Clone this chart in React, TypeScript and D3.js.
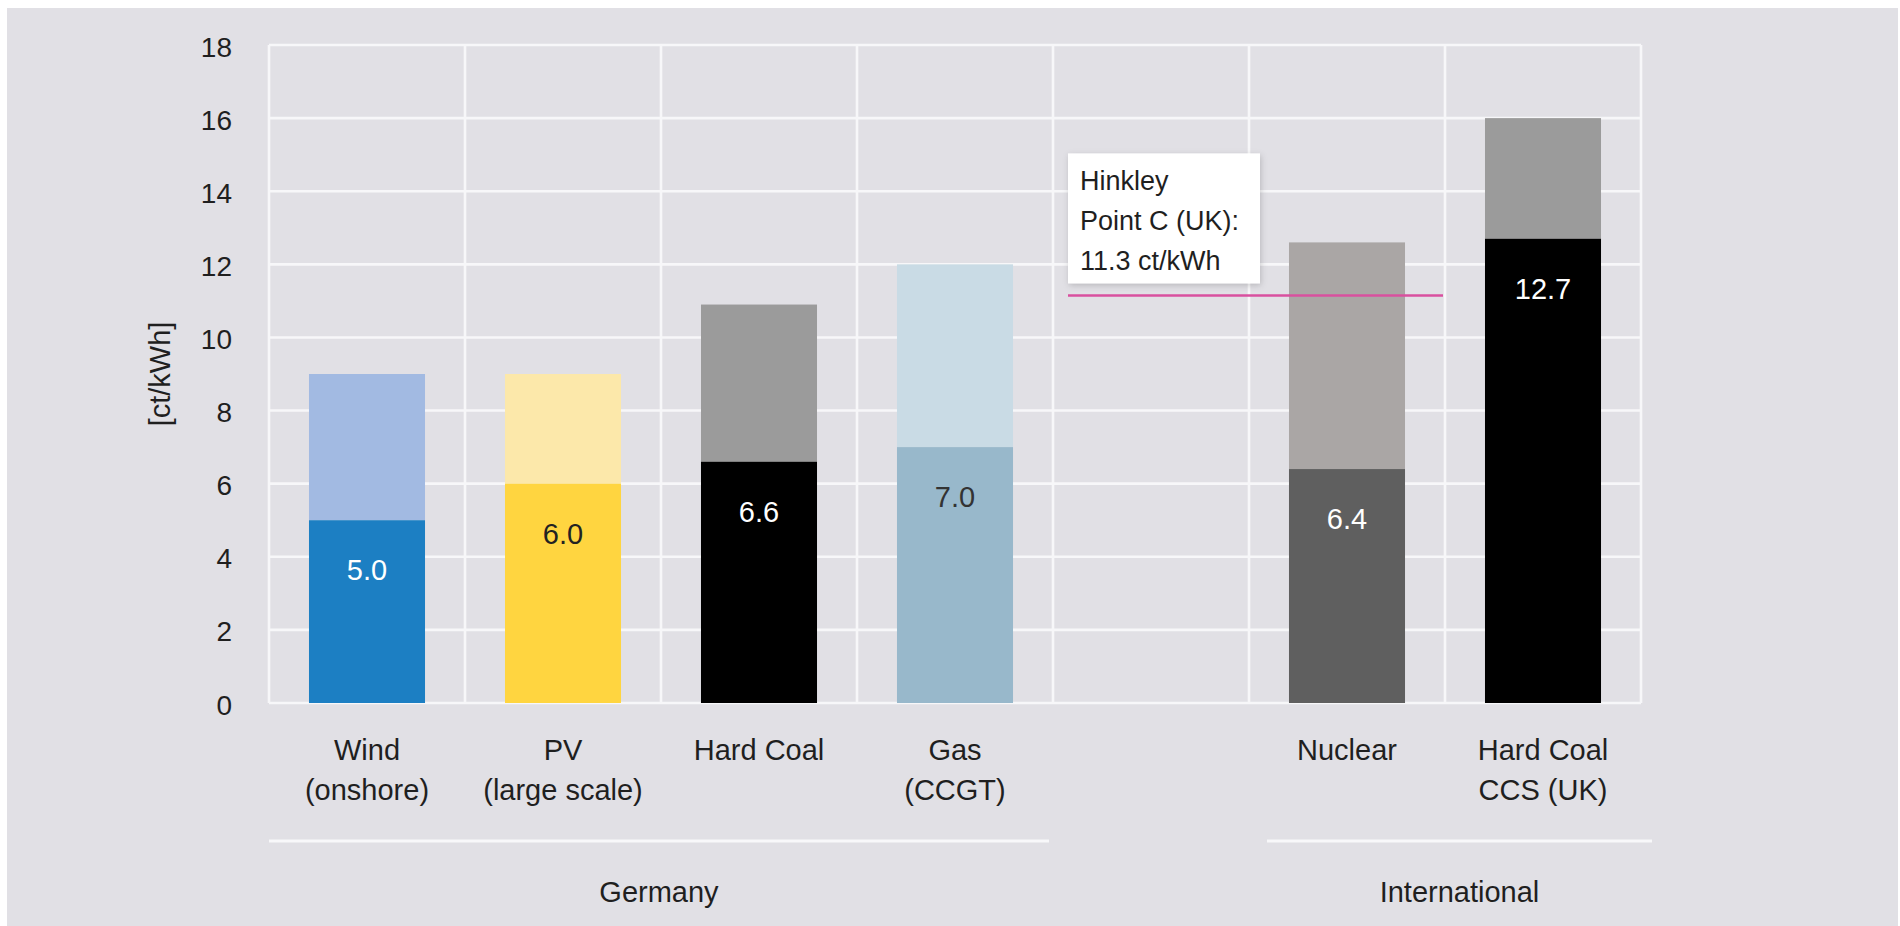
import React from "react";
import * as d3 from "d3";

// ---- data ----
const categories = ["wind", "pv", "coal", "gas", "gap", "nuclear", "ccs"];
const labelLine1 = ["Wind", "PV", "Hard Coal", "Gas", "", "Nuclear", "Hard Coal"];
const labelLine2 = ["(onshore)", "(large scale)", "", "(CCGT)", "", "", "CCS (UK)"];
const lowValues: (number | null)[] = [5.0, 6.0, 6.6, 7.0, null, 6.4, 12.7];
const highValues: (number | null)[] = [9.0, 9.0, 10.9, 12.0, null, 12.6, 16.0];
const lowColors = ["#1c7fc3", "#ffd540", "#000000", "#98b8cb", "", "#5f5f5f", "#000000"];
const highColors = ["#a2bae2", "#fce8aa", "#9b9b9b", "#c9dbe5", "", "#aaa6a5", "#9b9b9b"];
const valueLabelColors = ["#ffffff", "#222222", "#ffffff", "#333333", "", "#ffffff", "#ffffff"];
const yTicks = [0, 2, 4, 6, 8, 10, 12, 14, 16, 18];
const groups = [
  { name: "Germany", from: "wind", to: "gas" },
  { name: "International", from: "nuclear", to: "ccs" },
];
const hinkleyLines = ["Hinkley", "Point C (UK):", "11.3 ct/kWh"];
const hinkleyLineValue = 11.15;
const yAxisTitle = "[ct/kWh]";

const FONT = "'Liberation Sans', Arial, sans-serif";
const TEXT = "#1f1f1f";

export default function App() {
  const W = 1900;
  const H = 926;
  const left = 269;
  const right = 1641;
  const top = 45;
  const bottom = 703;

  const pad = 0.408;
  const x = d3.scaleBand<string>().domain(categories).range([left, right]).paddingInner(pad).paddingOuter(pad / 2);
  const y = d3.scaleLinear().domain([0, 18]).range([bottom, top]);
  const step = x.step();
  const colStart = (c: string) => (x(c) as number) - (step * pad) / 2;
  const colBounds = categories.map((c) => colStart(c)).concat([right]);

  const hx0 = colStart("gap") + 15;
  const hx1 = colStart("ccs") - 2;
  const hy = y(hinkleyLineValue);
  const boxW = 192;
  const boxH = 130;
  const boxTop = hy - 12 - boxH;

  return (
    <svg width={W} height={H} style={{ position: "absolute", left: 0, top: 0, display: "block" }} fontFamily={FONT}>
      <defs>
        <filter id="sh" x="-20%" y="-20%" width="140%" height="140%">
          <feDropShadow dx="1" dy="2" stdDeviation="3" floodColor="#000" floodOpacity="0.18" />
        </filter>
      </defs>
      <rect x={0} y={0} width={W} height={H} fill="#ffffff" />
      <rect x={7} y={8} width={1891} height={918} fill="#e1e0e5" />

      {/* grid */}
      {yTicks.map((t) => (
        <line key={"h" + t} x1={left} x2={right} y1={y(t)} y2={y(t)} stroke="#f7f7f9" strokeWidth={2.6} />
      ))}
      {colBounds.map((bx, i) => (
        <line key={"v" + i} x1={bx} x2={bx} y1={top} y2={bottom} stroke="#f7f7f9" strokeWidth={2.6} />
      ))}

      {/* y ticks */}
      {yTicks.map((t) => (
        <text key={"t" + t} x={232} y={y(t) + 2} textAnchor="end" dominantBaseline="central" fontSize={28} fill={TEXT}>
          {t}
        </text>
      ))}
      <text
        transform={`translate(160, ${(top + bottom) / 2}) rotate(-90)`}
        textAnchor="middle"
        dominantBaseline="central"
        fontSize={29}
        fill={TEXT}
      >
        {yAxisTitle}
      </text>

      {/* bars */}
      {categories.map((c, i) => {
        const lo = lowValues[i];
        const hi = highValues[i];
        if (lo == null || hi == null) return null;
        const bx = x(c) as number;
        const bw = x.bandwidth();
        return (
          <g key={c}>
            <rect x={bx} y={y(hi)} width={bw} height={y(lo) - y(hi)} fill={highColors[i]} />
            <rect x={bx} y={y(lo)} width={bw} height={y(0) - y(lo)} fill={lowColors[i]} />
            <text
              x={bx + bw / 2}
              y={y(lo) + 50}
              textAnchor="middle"
              dominantBaseline="central"
              fontSize={29}
              fill={valueLabelColors[i]}
            >
              {lo.toFixed(1)}
            </text>
          </g>
        );
      })}

      {/* Hinkley */}
      <line x1={hx0} x2={hx1} y1={hy} y2={hy} stroke="#d9509f" strokeWidth={2.5} />
      <rect x={hx0} y={boxTop} width={boxW} height={boxH} fill="#ffffff" filter="url(#sh)" />
      {hinkleyLines.map((s, i) => (
        <text key={s} x={hx0 + 12} y={boxTop + 37 + i * 40} fontSize={27} fill={TEXT}>
          {s}
        </text>
      ))}

      {/* category labels */}
      {categories.map((c, i) => {
        const cx = (x(c) as number) + x.bandwidth() / 2;
        return (
          <g key={"l" + c}>
            <text x={cx} y={760} textAnchor="middle" fontSize={29} fill={TEXT}>
              {labelLine1[i]}
            </text>
            <text x={cx} y={800} textAnchor="middle" fontSize={29} fill={TEXT}>
              {labelLine2[i]}
            </text>
          </g>
        );
      })}

      {/* groups */}
      {groups.map((g, gi) => {
        const x0 = gi === 0 ? colStart(g.from) : colStart(g.from) + 18;
        const x1 = gi === 0 ? colStart("gap") - 4 : right + 11;
        return (
          <g key={g.name}>
            <line x1={x0} x2={x1} y1={841} y2={841} stroke="#f8f8fa" strokeWidth={3} />
            <text x={(x0 + x1) / 2} y={902} textAnchor="middle" fontSize={29} fill={TEXT}>
              {g.name}
            </text>
          </g>
        );
      })}
    </svg>
  );
}
